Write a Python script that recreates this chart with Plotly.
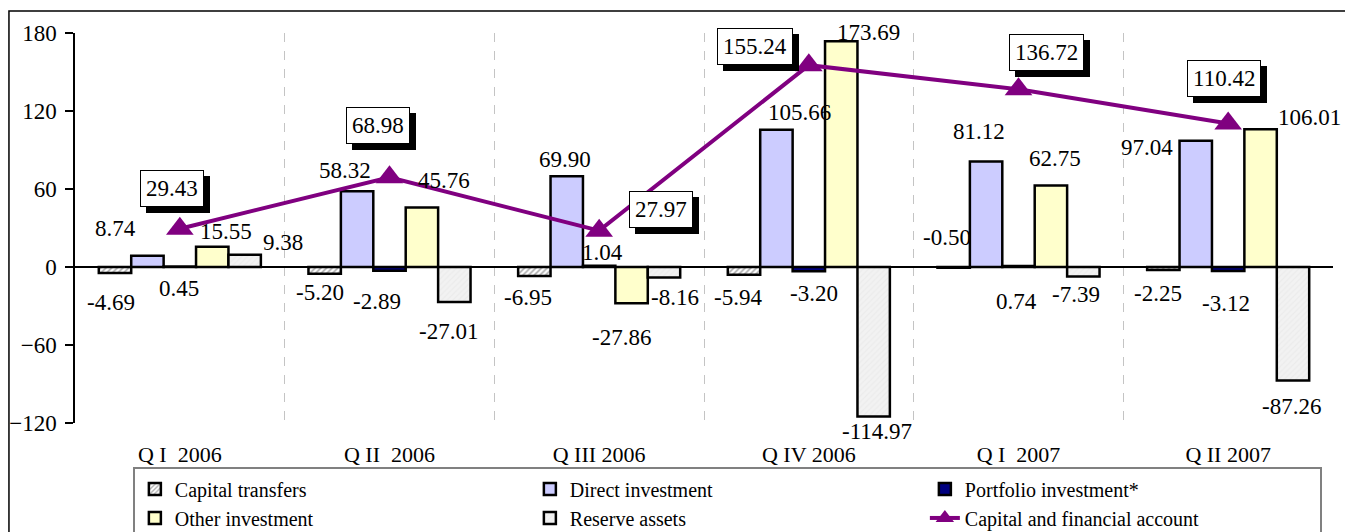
import plotly.graph_objects as go

# ---------------- data ----------------
quarters = ["Q I\u00a0 2006", "Q II\u00a0 2006", "Q III 2006", "Q IV 2006", "Q I\u00a0 2007", "Q II 2007"]
capital_transfers = [-4.69, -5.20, -6.95, -5.94, -0.50, -2.25]
direct_investment = [8.74, 58.32, 69.90, 105.66, 81.12, 97.04]
portfolio_investment = [0.45, -2.89, 1.04, -3.20, 0.74, -3.12]
other_investment = [15.55, 45.76, -27.86, 173.69, 62.75, 106.01]
reserve_assets = [9.38, -27.01, -8.16, -114.97, -7.39, -87.26]
capital_financial_account = [29.43, 68.98, 27.97, 155.24, 136.72, 110.42]
y_ticks = [-120, -60, 0, 60, 120, 180]

# ---------------- styles / label placement (pixels) ----------------
FONT = "Liberation Serif"
BARGAP = 0.227
bar_series = [
    ("Capital transfers", capital_transfers,
     dict(color="white", pattern=dict(shape="/", fgcolor="#555555", bgcolor="white", size=4, solidity=0.4))),
    ("Direct investment", direct_investment, dict(color="#CCCCFF")),
    ("Portfolio investment*", portfolio_investment, dict(color="#000080")),
    ("Other investment", other_investment, dict(color="#FFFFCC")),
    ("Reserve assets", reserve_assets,
     dict(color="#EEEEEE", pattern=dict(shape="/", fgcolor="#E4E4E4", bgcolor="#F2F2F2", size=4, solidity=0.3))),
]
# label offsets (dx, dy) in px relative to bar tip, dy>0 is up
label_offsets = [
    [(-4, -29), (-5, -19), (-6, -21), (-6, -23), (-7, 30), (-5, -24)],
    [(-32, 27), (-12, 21), (-2, 17), (23, 17), (-7, 30), (-49, -7)],
    [(-1, -22), (-13, -31), (3, 13), (5, -22), (-2, -35), (-2, -32)],
    [(14, 15), (22, 27), (-10, -34), (27, 9), (4, 27), (49, 12)],
    [(38, 12), (-6, -29), (11, -20), (3, -15), (-7, -18), (-2, -26)],
]
box_offsets = [(-8, 40), (-12, 52), (62, 21), (-54, 19), (28, 37), (-4, 45)]

fig = go.Figure()
for name, vals, mk in bar_series:
    marker = dict(mk)
    marker["line"] = dict(color="black", width=2.5)
    fig.add_trace(go.Bar(x=quarters, y=vals, name=name, marker=marker))

fig.add_trace(go.Scatter(
    x=quarters, y=capital_financial_account, name="Capital and financial account",
    mode="lines+markers",
    line=dict(color="#800080", width=4),
    marker=dict(symbol="triangle-up", size=24, color="#800080"),
))

annotations = []
w = (1 - BARGAP) / len(bar_series)
for s, (name, vals, mk) in enumerate(bar_series):
    for i, v in enumerate(vals):
        dx, dy = label_offsets[s][i]
        annotations.append(dict(
            x=i + (s - 2) * w, y=v, xref="x", yref="y", text=f"{v:.2f}",
            showarrow=False, xshift=dx, yshift=dy,
            font=dict(family=FONT, size=23, color="black"),
        ))
for i, v in enumerate(capital_financial_account):
    dx, dy = box_offsets[i]
    # shadow
    annotations.append(dict(
        x=i, y=v, xref="x", yref="y", text=f"{v:.2f}", showarrow=False,
        xshift=dx + 6, yshift=dy - 6, bgcolor="black", bordercolor="black",
        borderwidth=1, borderpad=5, font=dict(family=FONT, size=23, color="black"),
    ))
    annotations.append(dict(
        x=i, y=v, xref="x", yref="y", text=f"{v:.2f}", showarrow=False,
        xshift=dx, yshift=dy, bgcolor="white", bordercolor="black",
        borderwidth=1, borderpad=5, font=dict(family=FONT, size=23, color="black"),
    ))

fig.update_layout(
    width=1345, height=532,
    margin=dict(l=75, r=12, t=33, b=109, autoexpand=False),
    paper_bgcolor="white", plot_bgcolor="white",
    barmode="group", bargap=BARGAP, bargroupgap=0,
    font=dict(family=FONT, size=22, color="black"),
    showlegend=True,
    legend=dict(
        orientation="h", x=0.046, y=-0.114, xanchor="left", yanchor="top",
        entrywidth=350, entrywidthmode="pixels",
        bordercolor="#808080", borderwidth=2, bgcolor="white",
        font=dict(family=FONT, size=20, color="black"),
        traceorder="normal",
    ),
    annotations=annotations,
    shapes=[dict(
        type="rect", xref="paper", yref="paper",
        x0=-0.0525, x1=1.08, y0=-0.35, y1=1.0564,
        line=dict(color="black", width=1.5), fillcolor="rgba(0,0,0,0)", layer="below",
    )],
)
fig.update_xaxes(
    type="category", range=[-0.5, 5.5], showgrid=True, gridcolor="#C4C4C4", griddash="dash", gridwidth=1,
    tickson="boundaries", ticks="", showline=False, zeroline=False,
    tickfont=dict(family=FONT, size=22), ticklabelstandoff=16,
)
fig.update_yaxes(
    range=[-120, 180], tickvals=y_ticks, showgrid=False,
    showline=True, linecolor="black", linewidth=1.5,
    ticks="outside", ticklen=8, tickcolor="black", tickwidth=1.5,
    zeroline=True, zerolinecolor="black", zerolinewidth=1.5,
    tickfont=dict(family=FONT, size=23), ticklabelstandoff=4,
)

fig.write_html("out.html")
